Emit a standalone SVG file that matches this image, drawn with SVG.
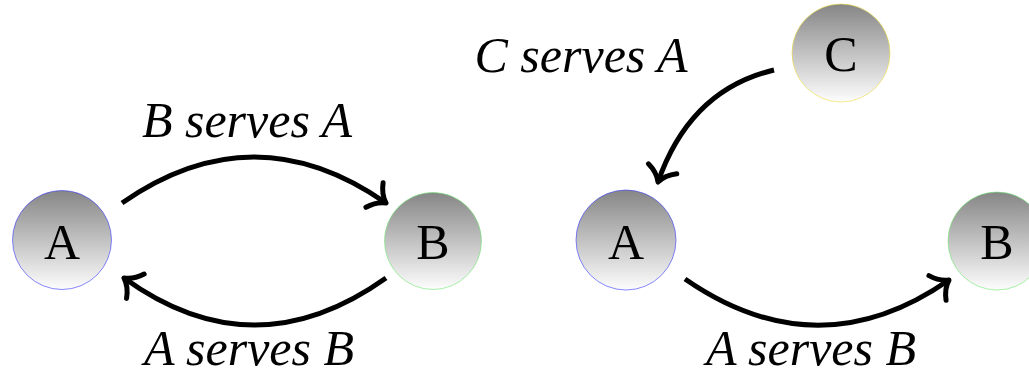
<svg xmlns="http://www.w3.org/2000/svg" width="1029" height="382" viewBox="0 0 1029 382">
<style>
.node{stroke-width:1;stroke-opacity:0.6}
.lbl{font-family:'Liberation Serif','Times New Roman',serif;font-size:50px;fill:#000;text-anchor:middle}
.edge{fill:none;stroke:#000;stroke-width:5;marker-end:url(#arr)}
.elbl{font-family:'Liberation Serif','Times New Roman',serif;font-style:italic;font-size:50px;fill:#000;text-anchor:middle}
</style>
<defs>
<linearGradient id="g" x1="0" y1="0" x2="0" y2="1">
<stop offset="0" stop-color="#868686"/>
<stop offset="1" stop-color="#fdfdfd"/>
</linearGradient>
<marker id="arr" markerUnits="userSpaceOnUse" viewBox="-22 -22 30 44" refX="0" refY="0" markerWidth="30" markerHeight="44" orient="auto" overflow="visible">
<path d="M-14,-15 C-10,-7 -4,-2 0,0 C-4,2 -10,7 -14,15" fill="none" stroke="#000" stroke-width="5" stroke-linecap="round" stroke-linejoin="round"/>
</marker>
</defs>
<rect width="1029" height="382" fill="#fff"/>
<g id="connectors">
<path class="edge" d="M122,203 Q254,111 386,203"/>
<path class="edge" d="M386,278 Q254,372 124,278"/>
<path class="edge" d="M774,70 Q690,90 658,182"/>
<path class="edge" d="M685,279 Q818,371 949,280"/>
<text class="elbl" x="247" y="137">B serves A</text>
<text class="elbl" x="249" y="365">A serves B</text>
<text class="elbl" x="581" y="72">C serves A</text>
<text class="elbl" x="811" y="365">A serves B</text>
</g>
<g id="nodeA1">
<circle class="node" cx="62" cy="240" r="49.5" fill="url(#g)" stroke="#3a3aff"/>
<text class="lbl" x="62" y="259">A</text>
</g>
<g id="nodeB1">
<circle class="node" cx="433" cy="241" r="48.5" fill="url(#g)" stroke="#6fe86f"/>
<text class="lbl" x="433" y="259">B</text>
</g>
<g id="nodeC">
<circle class="node" cx="841" cy="53" r="49" fill="url(#g)" stroke="#f0e040"/>
<text class="lbl" x="841" y="71">C</text>
</g>
<g id="nodeA2">
<circle class="node" cx="626" cy="240" r="50" fill="url(#g)" stroke="#3a3aff"/>
<text class="lbl" x="626" y="259">A</text>
</g>
<g id="nodeB2">
<circle class="node" cx="997" cy="241" r="49" fill="url(#g)" stroke="#6fe86f"/>
<text class="lbl" x="997" y="259">B</text>
</g>
</svg>
